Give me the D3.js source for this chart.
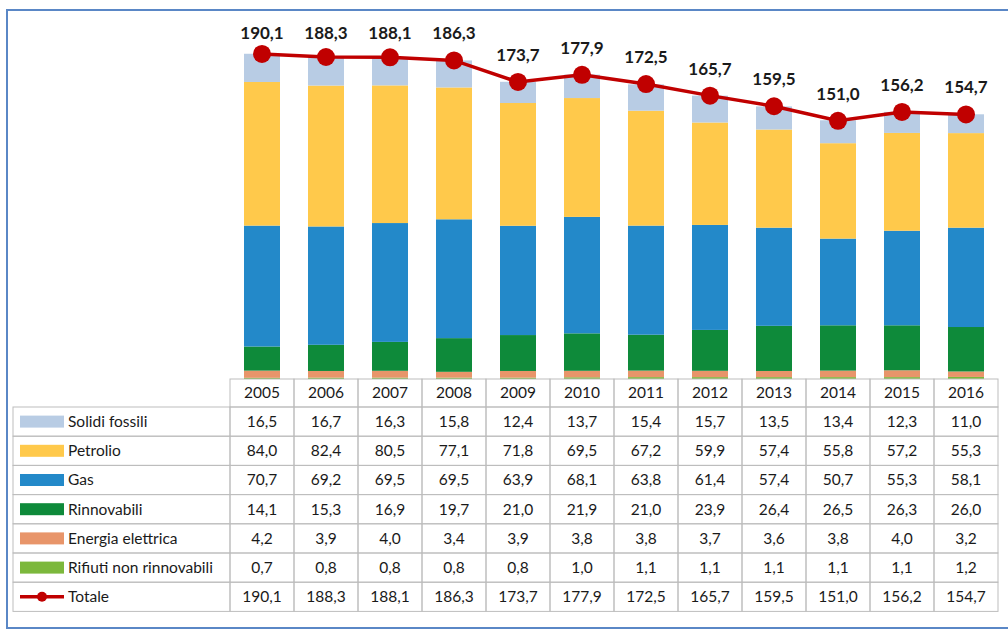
<!DOCTYPE html>
<html>
<head>
<meta charset="utf-8">
<script src="https://cdn.jsdelivr.net/npm/d3@7"></script>
<style>
  body { margin: 0; background: #fff; }
  svg { font-family: Lato, "Liberation Sans", sans-serif; }
  .cell text { font-size: 15.5px; fill: #1a1a1a; }
  .total-label { font-size: 17px; font-weight: bold; fill: #1a1a1a; }
</style>
</head>
<body>
<svg id="chart" width="1008" height="630"></svg>
<script>
const years = ['2005', '2006', '2007', '2008', '2009', '2010', '2011', '2012', '2013', '2014', '2015', '2016']

const solidiFossili = [16.5, 16.7, 16.3, 15.8, 12.4, 13.7, 15.4, 15.7, 13.5, 13.4, 12.3, 11.0]
const petrolio = [84.0, 82.4, 80.5, 77.1, 71.8, 69.5, 67.2, 59.9, 57.4, 55.8, 57.2, 55.3]
const gas = [70.7, 69.2, 69.5, 69.5, 63.9, 68.1, 63.8, 61.4, 57.4, 50.7, 55.3, 58.1]
const rinnovabili = [14.1, 15.3, 16.9, 19.7, 21.0, 21.9, 21.0, 23.9, 26.4, 26.5, 26.3, 26.0]
const energiaElettrica = [4.2, 3.9, 4.0, 3.4, 3.9, 3.8, 3.8, 3.7, 3.6, 3.8, 4.0, 3.2]
const rifiuti = [0.7, 0.8, 0.8, 0.8, 0.8, 1.0, 1.1, 1.1, 1.1, 1.1, 1.1, 1.2]
const totale = [190.1, 188.3, 188.1, 186.3, 173.7, 177.9, 172.5, 165.7, 159.5, 151.0, 156.2, 154.7]

// table rows are listed top to bottom; bars stack in reverse order
const series = [
  { name: 'Solidi fossili', values: solidiFossili, color: '#b8cce4' },
  { name: 'Petrolio', values: petrolio, color: '#ffc94b' },
  { name: 'Gas', values: gas, color: '#2389c9' },
  { name: 'Rinnovabili', values: rinnovabili, color: '#0e8a3a' },
  { name: 'Energia elettrica', values: energiaElettrica, color: '#e8956a' },
  { name: 'Rifiuti non rinnovabili', values: rifiuti, color: '#7cb83c' }
]
const red = '#c00000'
const fmt = v => d3.format('.1f')(v).replace('.', ',')

const svg = d3.select('#chart')

// outer frame
svg.append('rect')
  .attr('x', 7).attr('y', 10).attr('width', 1010).attr('height', 618)
  .attr('fill', 'none').attr('stroke', '#5a87c6').attr('stroke-width', 2)

const tableLeft = 13
const colLeft = 230
const colRight = 998
const headerTop = 379
const headerH = 28
const rowH = 29.2

const x = d3.scaleBand().domain(years).range([colLeft, colRight])
const y = d3.scaleLinear().domain([0, 200]).range([headerTop, headerTop - 342])
const barW = 36

// stacked bars
const stackData = years.map((yr, i) => {
  const o = { year: yr }
  series.forEach(s => { o[s.name] = s.values[i] })
  return o
})
const stack = d3.stack().keys(series.map(s => s.name).reverse())
const layers = stack(stackData)
const colorOf = new Map(series.map(s => [s.name, s.color]))

svg.append('g').selectAll('g')
  .data(layers)
  .join('g')
  .attr('fill', d => colorOf.get(d.key))
  .selectAll('rect')
  .data(d => d)
  .join('rect')
  .attr('x', d => x(d.data.year) + (x.bandwidth() - barW) / 2)
  .attr('width', barW)
  .attr('y', d => y(d[1]))
  .attr('height', d => y(d[0]) - y(d[1]))

// total line
const cx = yr => x(yr) + x.bandwidth() / 2
const line = d3.line().x((d, i) => cx(years[i])).y(d => y(d))
svg.append('path')
  .datum(totale)
  .attr('d', line)
  .attr('fill', 'none')
  .attr('stroke', red)
  .attr('stroke-width', 3.5)

svg.append('g').selectAll('circle')
  .data(totale)
  .join('circle')
  .attr('cx', (d, i) => cx(years[i]))
  .attr('cy', d => y(d))
  .attr('r', 9)
  .attr('fill', red)

// labels sit above the markers but can't go above the plot top
svg.append('g').selectAll('text')
  .data(totale)
  .join('text')
  .attr('class', 'total-label')
  .attr('x', (d, i) => cx(years[i]))
  .attr('y', d => Math.max(y(d) - 27, 33))
  .attr('dy', '0.35em')
  .attr('text-anchor', 'middle')
  .text(fmt)

// data table
const grid = svg.append('g').attr('class', 'cell')
const gridColor = '#bdbdbd'

// header row
years.forEach(yr => {
  grid.append('rect')
    .attr('x', x(yr)).attr('y', headerTop)
    .attr('width', x.bandwidth()).attr('height', headerH)
    .attr('fill', 'none').attr('stroke', gridColor)
  grid.append('text')
    .attr('x', cx(yr)).attr('y', headerTop + headerH / 2)
    .attr('dy', '0.35em').attr('text-anchor', 'middle')
    .text(yr)
})

const rows = series.map(s => ({ name: s.name, values: s.values, color: s.color, type: 'box' }))
rows.push({ name: 'Totale', values: totale, color: red, type: 'line' })

rows.forEach((r, ri) => {
  const top = headerTop + headerH + ri * rowH
  const mid = top + rowH / 2
  grid.append('rect')
    .attr('x', tableLeft).attr('y', top)
    .attr('width', colLeft - tableLeft).attr('height', rowH)
    .attr('fill', 'none').attr('stroke', gridColor)
  if (r.type === 'box') {
    grid.append('rect')
      .attr('x', 20).attr('y', mid - 6)
      .attr('width', 44).attr('height', 12)
      .attr('fill', r.color)
  } else {
    grid.append('line')
      .attr('x1', 20).attr('x2', 64).attr('y1', mid).attr('y2', mid)
      .attr('stroke', r.color).attr('stroke-width', 3.5)
    grid.append('circle')
      .attr('cx', 42).attr('cy', mid).attr('r', 5).attr('fill', r.color)
  }
  grid.append('text')
    .attr('x', 68).attr('y', mid).attr('dy', '0.35em')
    .text(r.name)
  years.forEach((yr, i) => {
    grid.append('rect')
      .attr('x', x(yr)).attr('y', top)
      .attr('width', x.bandwidth()).attr('height', rowH)
      .attr('fill', 'none').attr('stroke', gridColor)
    grid.append('text')
      .attr('x', cx(yr)).attr('y', mid).attr('dy', '0.35em')
      .attr('text-anchor', 'middle')
      .text(fmt(r.values[i]))
  })
})
</script>
</body>
</html>
